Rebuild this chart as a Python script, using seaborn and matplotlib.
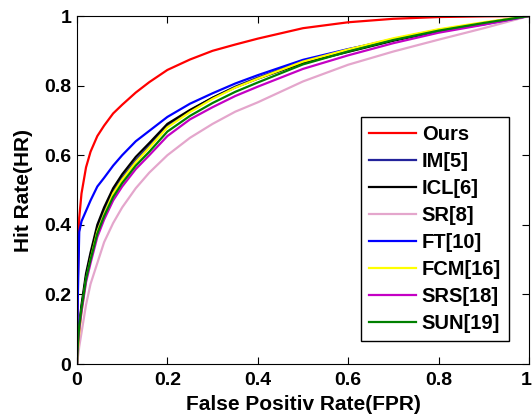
import matplotlib
matplotlib.use("Agg")
import matplotlib.pyplot as plt
import matplotlib.transforms as mtransforms
import seaborn as sns
import pandas as pd

fpr = [0, 0.002, 0.005, 0.01, 0.02, 0.03, 0.045, 0.06, 0.08, 0.1, 0.13, 0.16,
       0.2, 0.25, 0.3, 0.35, 0.4, 0.5, 0.6, 0.7, 0.8, 0.9, 1.0]

methods = ["Ours", "IM[5]", "ICL[6]", "SR[8]", "FT[10]", "FCM[16]", "SRS[18]", "SUN[19]"]

hr_ours = [0, 0.25, 0.42, 0.49, 0.565, 0.61, 0.655, 0.685, 0.72, 0.745, 0.78, 0.81,
           0.845, 0.875, 0.90, 0.918, 0.935, 0.965, 0.982, 0.992, 0.997, 0.999, 1.0]
hr_im = [0, 0.04, 0.10, 0.16, 0.25, 0.31, 0.39, 0.44, 0.495, 0.535, 0.585, 0.627,
         0.685, 0.728, 0.765, 0.797, 0.823, 0.870, 0.904, 0.934, 0.960, 0.980, 1.0]
hr_icl = [0, 0.05, 0.11, 0.17, 0.26, 0.32, 0.40, 0.45, 0.505, 0.545, 0.595, 0.635,
          0.69, 0.73, 0.765, 0.795, 0.82, 0.865, 0.897, 0.929, 0.956, 0.978, 1.0]
hr_sr = [0, 0.02, 0.05, 0.09, 0.17, 0.23, 0.29, 0.35, 0.405, 0.45, 0.505, 0.55,
         0.60, 0.65, 0.69, 0.725, 0.752, 0.812, 0.86, 0.898, 0.932, 0.965, 1.0]
hr_ft = [0, 0.20, 0.38, 0.41, 0.44, 0.47, 0.51, 0.535, 0.57, 0.60, 0.64, 0.67,
         0.71, 0.748, 0.778, 0.806, 0.83, 0.874, 0.905, 0.932, 0.957, 0.976, 1.0]
hr_fcm = [0, 0.04, 0.09, 0.15, 0.24, 0.30, 0.38, 0.43, 0.49, 0.53, 0.58, 0.622,
          0.68, 0.724, 0.762, 0.794, 0.820, 0.869, 0.904, 0.936, 0.962, 0.982, 1.0]
hr_srs = [0, 0.05, 0.10, 0.15, 0.235, 0.29, 0.365, 0.415, 0.47, 0.51, 0.56, 0.60,
          0.655, 0.703, 0.738, 0.77, 0.797, 0.848, 0.887, 0.922, 0.952, 0.975, 1.0]
hr_sun = [0, 0.06, 0.11, 0.16, 0.245, 0.30, 0.375, 0.425, 0.48, 0.52, 0.57, 0.61,
          0.668, 0.713, 0.75, 0.782, 0.809, 0.861, 0.898, 0.931, 0.958, 0.980, 1.0]

series = [hr_ours, hr_im, hr_icl, hr_sr, hr_ft, hr_fcm, hr_srs, hr_sun]
colors = ["#ff0000", "#23239b", "#000000", "#e4a6cc", "#0000ff", "#ffff00", "#c400c4", "#008000"]

tick_vals = [0, 0.2, 0.4, 0.6, 0.8, 1]
tick_labels = ["0", "0.2", "0.4", "0.6", "0.8", "1"]

rows = []
for m, ys in zip(methods, series):
    for x, y in zip(fpr, ys):
        rows.append({"FPR": x, "HR": y, "Method": m})
df = pd.DataFrame(rows)

plt.rcParams["font.family"] = ["Liberation Sans", "DejaVu Sans"]
plt.rcParams["font.weight"] = "bold"

fig = plt.figure(figsize=(5.32, 4.2), dpi=100)
ax = fig.add_axes([0.1447, 0.1333, 0.8497, 0.8286])

sns.lineplot(data=df, x="FPR", y="HR", hue="Method", hue_order=methods,
             palette=dict(zip(methods, colors)), sort=False, estimator=None,
             linewidth=1.6, ax=ax)

ax.set_xlim(0, 1)
ax.set_ylim(0, 1)
ax.set_xticks(tick_vals)
ax.set_xticklabels(tick_labels, fontsize=14, fontweight="bold")
ax.set_yticks(tick_vals)
ax.set_yticklabels(tick_labels, fontsize=14, fontweight="bold")
ax.tick_params(direction="in", length=5, width=0.8, top=True, right=True, pad=4)
ax.tick_params(axis="x", pad=6)
last = ax.get_xticklabels()[-1]
last.set_horizontalalignment("right")
last.set_transform(last.get_transform() + mtransforms.ScaledTranslation(3 / 100, 0, fig.dpi_scale_trans))

ax.set_xlabel("False Positiv Rate(FPR)", fontsize=15, fontweight="bold", labelpad=4)
ax.set_ylabel("Hit Rate(HR)", fontsize=15, fontweight="bold", labelpad=8)
for s in ax.spines.values():
    s.set_linewidth(0.8)
    s.set_color("black")

handles, labels = ax.get_legend_handles_labels()
leg = ax.legend(handles, labels, loc="lower right", fontsize=14.5, frameon=True,
                fancybox=False, edgecolor="black", framealpha=1,
                handlelength=2.3, handletextpad=0.3, labelspacing=0.4,
                borderpad=0.4, borderaxespad=0, bbox_to_anchor=(0.956, 0.066))
leg.get_frame().set_linewidth(1.0)
for t in leg.get_texts():
    t.set_fontweight("bold")

fig.savefig("out.png", dpi=100)
